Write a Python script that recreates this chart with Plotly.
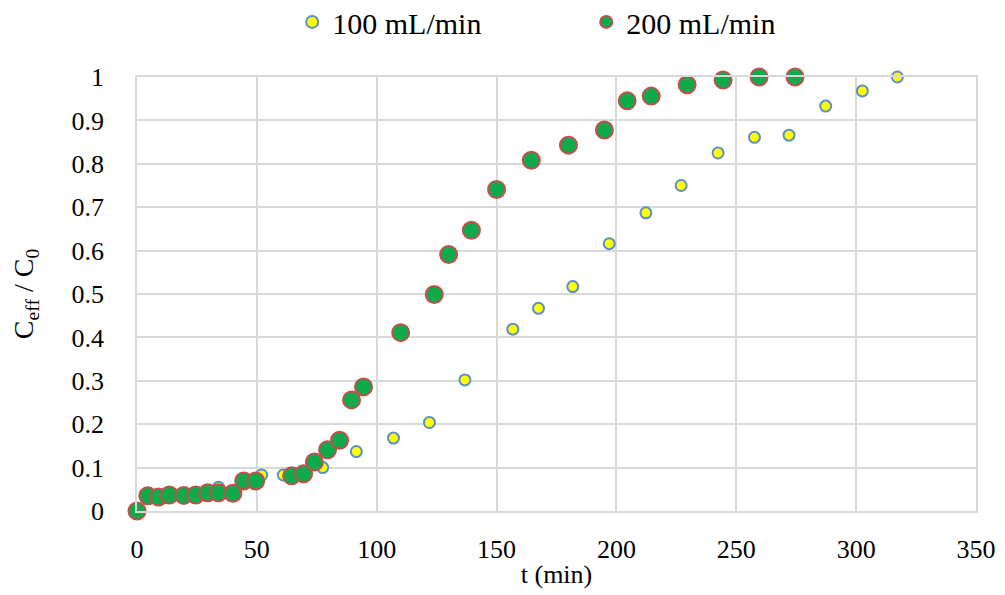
import plotly.graph_objects as go

# 100 mL/min
t_100 = [0, 34, 52, 61, 77.5, 91.5, 107, 122, 136.8, 156.8, 167.5, 181.8, 197, 212.3, 227, 242.4, 257.6, 272, 287.3, 302.6, 317.2]
c_100 = [0, 0.055, 0.083, 0.083, 0.10, 0.137, 0.168, 0.204, 0.302, 0.419, 0.467, 0.517, 0.616, 0.687, 0.750, 0.825, 0.861, 0.866, 0.933, 0.968, 1.0]

# 200 mL/min
t_200 = [0, 4.5, 9, 13.5, 19.5, 24.5, 29.5, 34, 40, 44.5, 49.5, 64.5, 69.5, 74, 79.5, 84.5, 89.5, 94.5,
         110, 124, 130, 139.5, 150, 164.5, 180, 195, 204.5, 214.5, 229.5, 244.5, 259.5, 274.5]
c_200 = [0, 0.035, 0.032, 0.037, 0.036, 0.037, 0.042, 0.042, 0.041, 0.069, 0.069, 0.081, 0.086, 0.113, 0.141, 0.163, 0.256, 0.286,
         0.411, 0.499, 0.591, 0.647, 0.741, 0.808, 0.843, 0.878, 0.945, 0.956, 0.982, 0.993, 1.0, 1.0]

x_ticks = [0, 50, 100, 150, 200, 250, 300, 350]
y_ticks = [0, 0.1, 0.2, 0.3, 0.4, 0.5, 0.6, 0.7, 0.8, 0.9, 1]
y_tick_text = ["0", "0.1", "0.2", "0.3", "0.4", "0.5", "0.6", "0.7", "0.8", "0.9", "1"]

font_family = "Liberation Serif, Times New Roman, serif"

fig = go.Figure()
fig.add_trace(go.Scatter(
    x=t_100, y=c_100, mode="markers", name="100 mL/min",
    marker=dict(size=11, color="#FFFF00", line=dict(color="#5B8FC9", width=2)),
    cliponaxis=False,
))
fig.add_trace(go.Scatter(
    x=t_200, y=c_200, mode="markers", name="200 mL/min",
    marker=dict(size=17, color="#0FAA4B", line=dict(color="#C0504D", width=2)),
    cliponaxis=False,
))

# page body has an 8px margin, so the figure is sized to fit the 1005x595 window
fig.update_layout(
    width=997, height=587,
    margin=dict(l=129, r=29, t=69, b=84, autoexpand=False),
    paper_bgcolor="white", plot_bgcolor="white",
    font=dict(family=font_family, size=26, color="black"),
    showlegend=True,
    legend=dict(orientation="h", x=0.185, xanchor="left", y=1.127, yanchor="middle",
                entrywidth=249, font=dict(size=30),
                itemsizing="constant"),
    xaxis=dict(range=[0, 350], tickvals=x_ticks, showgrid=True, gridcolor="#D9D9D9", gridwidth=1.5,
               showline=True, mirror=True, linecolor="#D9D9D9", linewidth=1.5, zeroline=False,
               ticks="", ticklabelstandoff=14, automargin=False, tickfont=dict(size=26),
               title=dict(text="t (min)", standoff=2, font=dict(size=26))),
    yaxis=dict(range=[0, 1], tickvals=y_ticks, ticktext=y_tick_text, showgrid=True, gridcolor="#D9D9D9",
               gridwidth=1.5, showline=True, mirror=True, linecolor="#D9D9D9", linewidth=1.5, zeroline=False,
               ticks="", ticklabelstandoff=26, automargin=False, tickfont=dict(size=26),
               title=dict(text="C<sub>eff</sub> / C<sub>0</sub>", standoff=34, font=dict(size=28))),
)

fig.write_html("out.html")
